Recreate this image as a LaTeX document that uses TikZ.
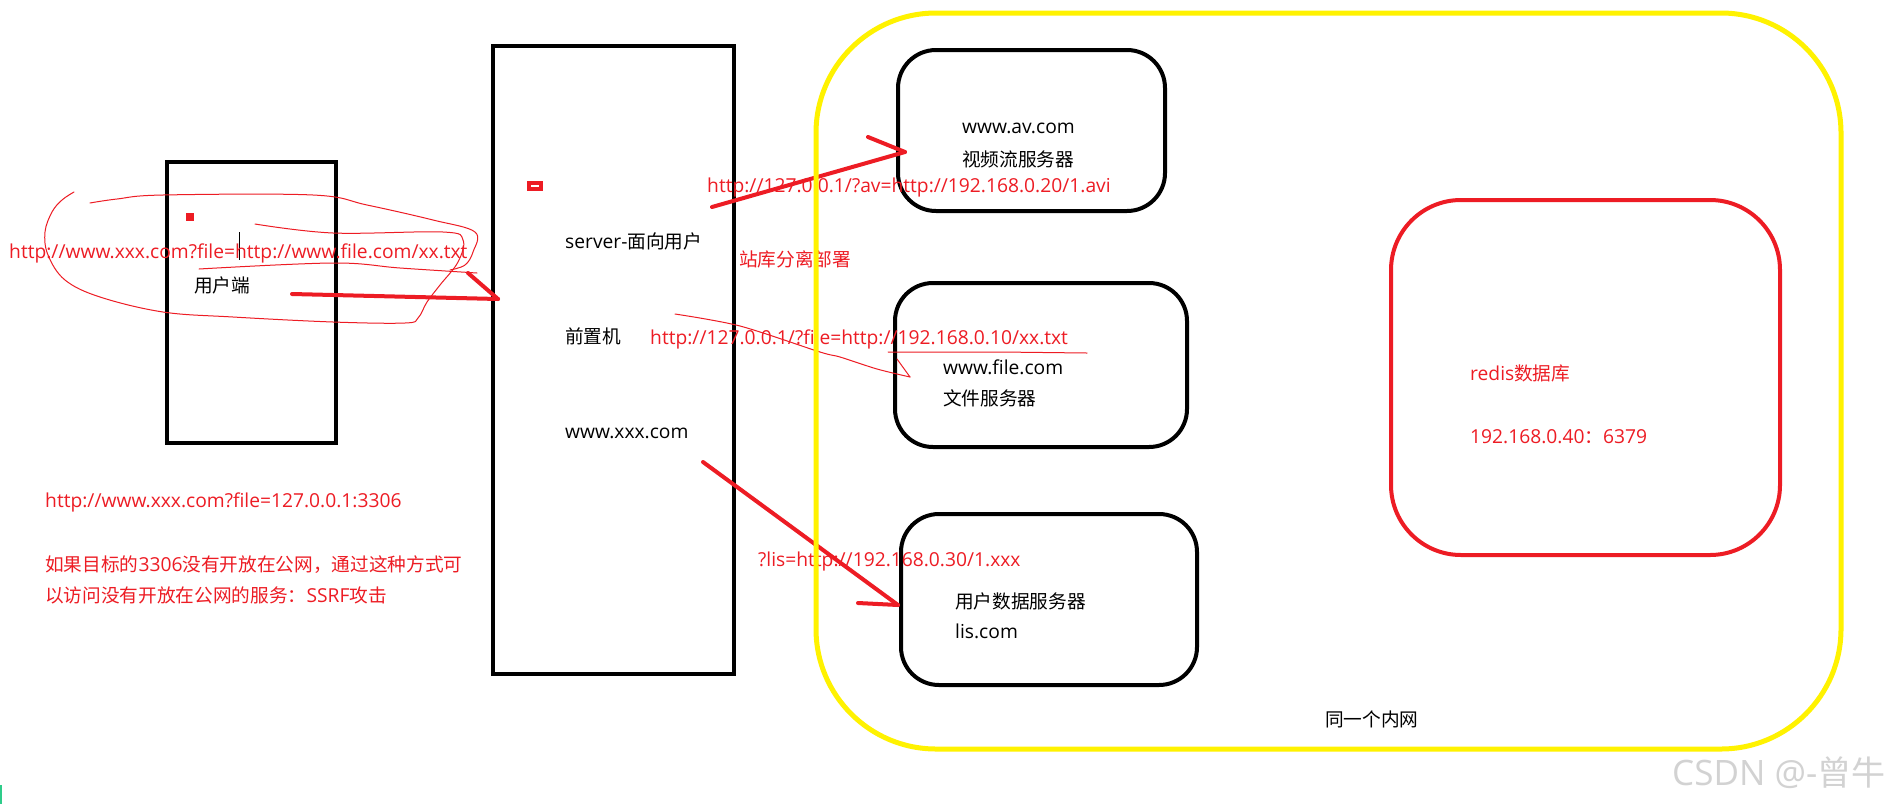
\documentclass[tikz,border=0pt]{standalone}
\usepackage{fontspec}
\setmainfont{Noto Sans CJK SC}
\newfontfamily\latf{Open Sans}[Scale=1.03]
\newcommand\LT[1]{{\latf #1}}
\definecolor{pred}{HTML}{ED1C24}
\definecolor{pyel}{HTML}{FFF200}
\definecolor{pgreen}{HTML}{2ECC8A}
\begin{document}
\begin{tikzpicture}[x=1pt,y=-1pt,
  txt/.style={anchor=base west, inner sep=0, font=\fontsize{18.67}{22}\selectfont},
  rtxt/.style={txt, text=pred},
  sharpbox/.style={draw=black, line width=4pt, inner sep=0},
  roundbox/.style={draw=black, line width=4pt, rounded corners=38pt, inner sep=0},
  redisbox/.style={draw=pred, line width=4pt, rounded corners=70pt, inner sep=0},
  lanbox/.style={draw=pyel, line width=5pt, rounded corners=120pt, inner sep=0},
  thick arrow/.style={draw=pred, line width=4pt, line cap=round},
  scribble/.style={draw=pred, line width=1pt, line cap=round, line join=round},
]
\useasboundingbox (0,0) rectangle (1900,804);
\fill[white] (0,0) rectangle (1900,804);

% boxes
\node[sharpbox, minimum width=169, minimum height=281] (client) at (251.5,302.5) {};
\node[sharpbox, minimum width=241, minimum height=628] (server) at (613.5,360) {};
\node[roundbox, minimum width=267, minimum height=161] (av) at (1031.5,130.5) {};
\node[roundbox, minimum width=292, minimum height=164] (file) at (1041,365) {};
\node[roundbox, minimum width=296, minimum height=171] (users) at (1049,599.5) {};
\node[redisbox, minimum width=389, minimum height=355] (redis) at (1585.5,377.5) {};

% small marks
\fill[pred] (186,213) rectangle (194,221);
\draw[black, line width=1pt] (239,232) -- (239,260);
\node[fill=pred, minimum width=16, minimum height=10, inner sep=0] (icon) at (535,186) {};
\draw[white, line width=1.5pt] ([xshift=-4pt]icon.center) -- ([xshift=4pt]icon.center);
\fill[pgreen] (0,785) rectangle (2,804);

% black texts
\node[txt] (tclient) at (194,292) {用户端};
\node[txt] (tsrv1) at (565,248) {\LT{server-}面向用户};
\node[txt] (tsrv2) at (565,343) {前置机};
\node[txt] (tsrv3) at (565,438) {\LT{www.xxx.com}};
\node[txt] (tav1) at (962,133) {\LT{www.av.com}};
\node[txt] (tav2) at (962,166) {视频流服务器};
\node[txt] (tfile1) at (943,374) {\LT{www.file.com}};
\node[txt] (tfile2) at (943,405) {文件服务器};
\node[txt] (tusr1) at (955,608) {用户数据服务器};
\node[txt] (tusr2) at (955,638) {\LT{lis.com}};
\node[txt] (tlan) at (1325,726) {同一个内网};

% red texts
\node[rtxt] (u1) at (9,258) {\LT{http://www.xxx.com?file=http://www.file.com/xx.txt}};
\node[rtxt] (sep) at (739,266) {站库分离部署};
\node[rtxt] (uav) at (707,192) {\LT{http://127.0.0.1/?av=http://192.168.0.20/1.avi}};
\node[rtxt] (ufile) at (650,344) {\LT{http://127.0.0.1/?file=http://192.168.0.10/xx.txt}};
\node[rtxt] (ulis) at (758,566) {\LT{?lis=http://192.168.0.30/1.xxx}};
\node[rtxt] (tr1) at (1470,380) {\LT{redis}数据库};
\node[rtxt] (tr2) at (1470,443) {\LT{192.168.0.40}：\LT{6379}};
\node[rtxt] (n1) at (45,507) {\LT{http://www.xxx.com?file=127.0.0.1:3306}};
\node[rtxt] (n2) at (45,571) {如果目标的\LT{3306}没有开放在公网，通过这种方式可};
\node[rtxt] (n3) at (45,602) {以访问没有开放在公网的服务：\LT{SSRF}攻击};

% scribbles
\draw[scribble] plot[smooth, tension=0.6] coordinates {(255,224) (333,233) (443,232) (463,240) (458,262) (440,285) (427,302) (418,318) (405,323) (333,322) (233,317) (163,312) (100,297) (65,280) (48,255) (45,232) (52,212) (62,200) (74,192)};
\draw[scribble] plot[smooth, tension=0.6] coordinates {(90,203) (117,199) (163,195) (313,195) (367,205) (433,220) (475,232) (473,252) (465,265) (450,270)};
\draw[scribble] plot[smooth, tension=0.6] coordinates {(477,273) (400,268) (333,263) (199,269)};
\draw[scribble] plot[smooth, tension=0.5] coordinates {(675,314) (740,326) (820,352) (840,357) (877,369) (910,377)};
\draw[scribble] (897,359) -- (910,377);
\draw[scribble] (888,352) -- (1000,352) -- (1087,353);

% thick arrows
\coordinate (c1) at (292,294);
\coordinate (c2) at (498,299);
\draw[thick arrow] (c1) -- (c2);
\draw[thick arrow] (c2) -- ++(-30,-26);
\coordinate (a1) at (712,207);
\coordinate (a2) at (905,152);
\draw[thick arrow] (a1) -- (a2);
\draw[thick arrow] (a2) -- ++(-37,-15);
\coordinate (l1) at (703,462);
\coordinate (l2) at (898,605);
\draw[thick arrow] (l1) -- (l2);
\draw[thick arrow] (l2) -- ++(-40,-2);

% LAN boundary
\node[lanbox, minimum width=1025, minimum height=736] (lan) at (1328.5,381) {};

% watermark
\node[anchor=base west, inner sep=0, text=gray!35, font=\fontsize{34}{38}\selectfont] (wm) at (1672,785) {\LT{CSDN @-}曾牛};
\end{tikzpicture}
\end{document}
